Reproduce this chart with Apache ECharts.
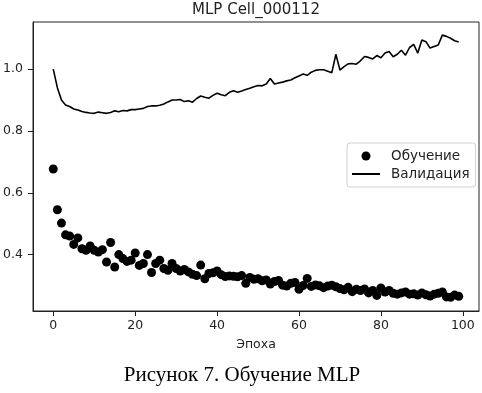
<!DOCTYPE html>
<html>
<head>
<meta charset="utf-8">
<script src="https://cdn.jsdelivr.net/npm/echarts@6/dist/echarts.min.js"></script>
<style>
  html, body { margin: 0; padding: 0; background: #fff; }
  #chart { width: 482px; height: 393px; }
</style>
</head>
<body>
<div id="chart"></div>
<script>
// values, one per epoch (0..99)
const trainLoss = [
  0.677, 0.545, 0.502, 0.464, 0.460, 0.433, 0.454, 0.419, 0.414, 0.428,
  0.414, 0.408, 0.416, 0.376, 0.439, 0.360, 0.400, 0.387, 0.378, 0.382,
  0.405, 0.365, 0.371, 0.400, 0.342, 0.371, 0.382, 0.355, 0.349, 0.371,
  0.355, 0.347, 0.352, 0.344, 0.336, 0.332, 0.366, 0.322, 0.339, 0.341,
  0.347, 0.335, 0.329, 0.331, 0.330, 0.328, 0.332, 0.307, 0.326, 0.320,
  0.322, 0.315, 0.318, 0.305, 0.313, 0.316, 0.301, 0.298, 0.307, 0.310,
  0.288, 0.300, 0.323, 0.297, 0.302, 0.299, 0.293, 0.298, 0.301, 0.296,
  0.290, 0.286, 0.294, 0.280, 0.288, 0.284, 0.289, 0.276, 0.284, 0.268,
  0.292, 0.279, 0.284, 0.275, 0.272, 0.276, 0.279, 0.272, 0.273, 0.269,
  0.276, 0.270, 0.266, 0.272, 0.275, 0.279, 0.263, 0.262, 0.269, 0.265
];
const valLoss = [
  1.000, 0.940, 0.900, 0.884, 0.879, 0.871, 0.868, 0.863, 0.860, 0.858,
  0.857, 0.861, 0.859, 0.857, 0.860, 0.865, 0.862, 0.866, 0.865, 0.869,
  0.869, 0.871, 0.873, 0.879, 0.881, 0.881, 0.883, 0.887, 0.894, 0.900,
  0.900, 0.902, 0.895, 0.898, 0.893, 0.905, 0.913, 0.909, 0.906, 0.915,
  0.922, 0.917, 0.914, 0.925, 0.930, 0.925, 0.929, 0.934, 0.938, 0.943,
  0.947, 0.946, 0.952, 0.970, 0.952, 0.955, 0.958, 0.962, 0.965, 0.972,
  0.978, 0.984, 0.980, 0.990, 0.996, 0.998, 0.998, 0.993, 0.988, 1.048,
  0.997, 1.008, 1.017, 1.018, 1.016, 1.027, 1.041, 1.038, 1.033, 1.044,
  1.037, 1.052, 1.057, 1.040, 1.048, 1.061, 1.045, 1.070, 1.080, 1.052,
  1.094, 1.089, 1.068, 1.073, 1.078, 1.110, 1.106, 1.100, 1.092, 1.088
];
const xTicks = [0, 20, 40, 60, 80, 100];
const yTicks = [0.4, 0.6, 0.8, 1.0];
const titleText = "MLP Cell_000112";
const captionText = "Рисунок 7. Обучение MLP";

const chart = echarts.init(document.getElementById("chart"));
const ink = "#222";
const font = "DejaVu Sans";

const option = {
  animation: false,
  backgroundColor: "#fff",
  grid: {
    left: 33,
    right: 3,
    top: 22,
    bottom: 82,
    show: true,
    borderColor: ink,
    borderWidth: 1,
  },
  xAxis: {
    type: "value",
    min: -4.95,
    max: 103.95,
    name: "Эпоха",
    nameLocation: "middle",
    nameGap: 27,
    nameTextStyle: { fontFamily: font, fontSize: 12.5, color: ink },
    axisLine: { show: true, onZero: false, lineStyle: { color: ink, width: 1 } },
    axisTick: { show: true, customValues: xTicks, length: 5, lineStyle: { color: ink } },
    axisLabel: {
      customValues: xTicks,
      margin: 8,
      fontFamily: font,
      fontSize: 12.5,
      color: ink,
    },
    splitLine: { show: false },
  },
  yAxis: {
    type: "value",
    min: 0.2175,
    max: 1.1525,
    axisLine: { show: true, onZero: false, lineStyle: { color: ink, width: 1 } },
    axisTick: { show: true, customValues: yTicks, length: 5, lineStyle: { color: ink } },
    axisLabel: {
      customValues: yTicks,
      margin: 10,
      fontFamily: font,
      fontSize: 12.5,
      color: ink,
      formatter: (v) => v.toFixed(1),
    },
    splitLine: { show: false },
  },
  legend: {
    orient: "vertical",
    left: 347,
    top: 143,
    padding: [6, 6, 6, 4],
    itemGap: 4,
    itemWidth: 28,
    itemHeight: 9,
    backgroundColor: "#fff",
    borderColor: "#d0d0d0",
    borderWidth: 1,
    borderRadius: 3,
    textStyle: { fontFamily: font, fontSize: 13.5, color: ink, padding: [0, 0, 0, 6] },
    data: [
      { name: "Обучение", icon: "circle" },
      { name: "Валидация", itemStyle: { opacity: 0 } },
    ],
  },
  graphic: [
    {
      type: "text",
      x: 256,
      y: 10,
      style: {
        text: titleText,
        align: "center",
        verticalAlign: "middle",
        font: '15px "DejaVu Sans"',
        fill: ink,
      },
    },
    {
      type: "text",
      x: 242,
      y: 375,
      style: {
        text: captionText,
        align: "center",
        verticalAlign: "middle",
        font: '21px "Liberation Serif"',
        fill: "#000",
      },
    },
  ],
  series: [
    {
      name: "Обучение",
      type: "scatter",
      symbol: "circle",
      symbolSize: 9,
      itemStyle: { color: "#000", opacity: 1 },
      data: trainLoss.map((v, i) => [i, v]),
    },
    {
      name: "Валидация",
      type: "line",
      symbol: "none",
      lineStyle: { color: "#000", width: 1.6 },
      itemStyle: { color: "#000" },
      data: valLoss.map((v, i) => [i, v]),
    },
  ],
};

chart.setOption(option);
</script>
</body>
</html>
